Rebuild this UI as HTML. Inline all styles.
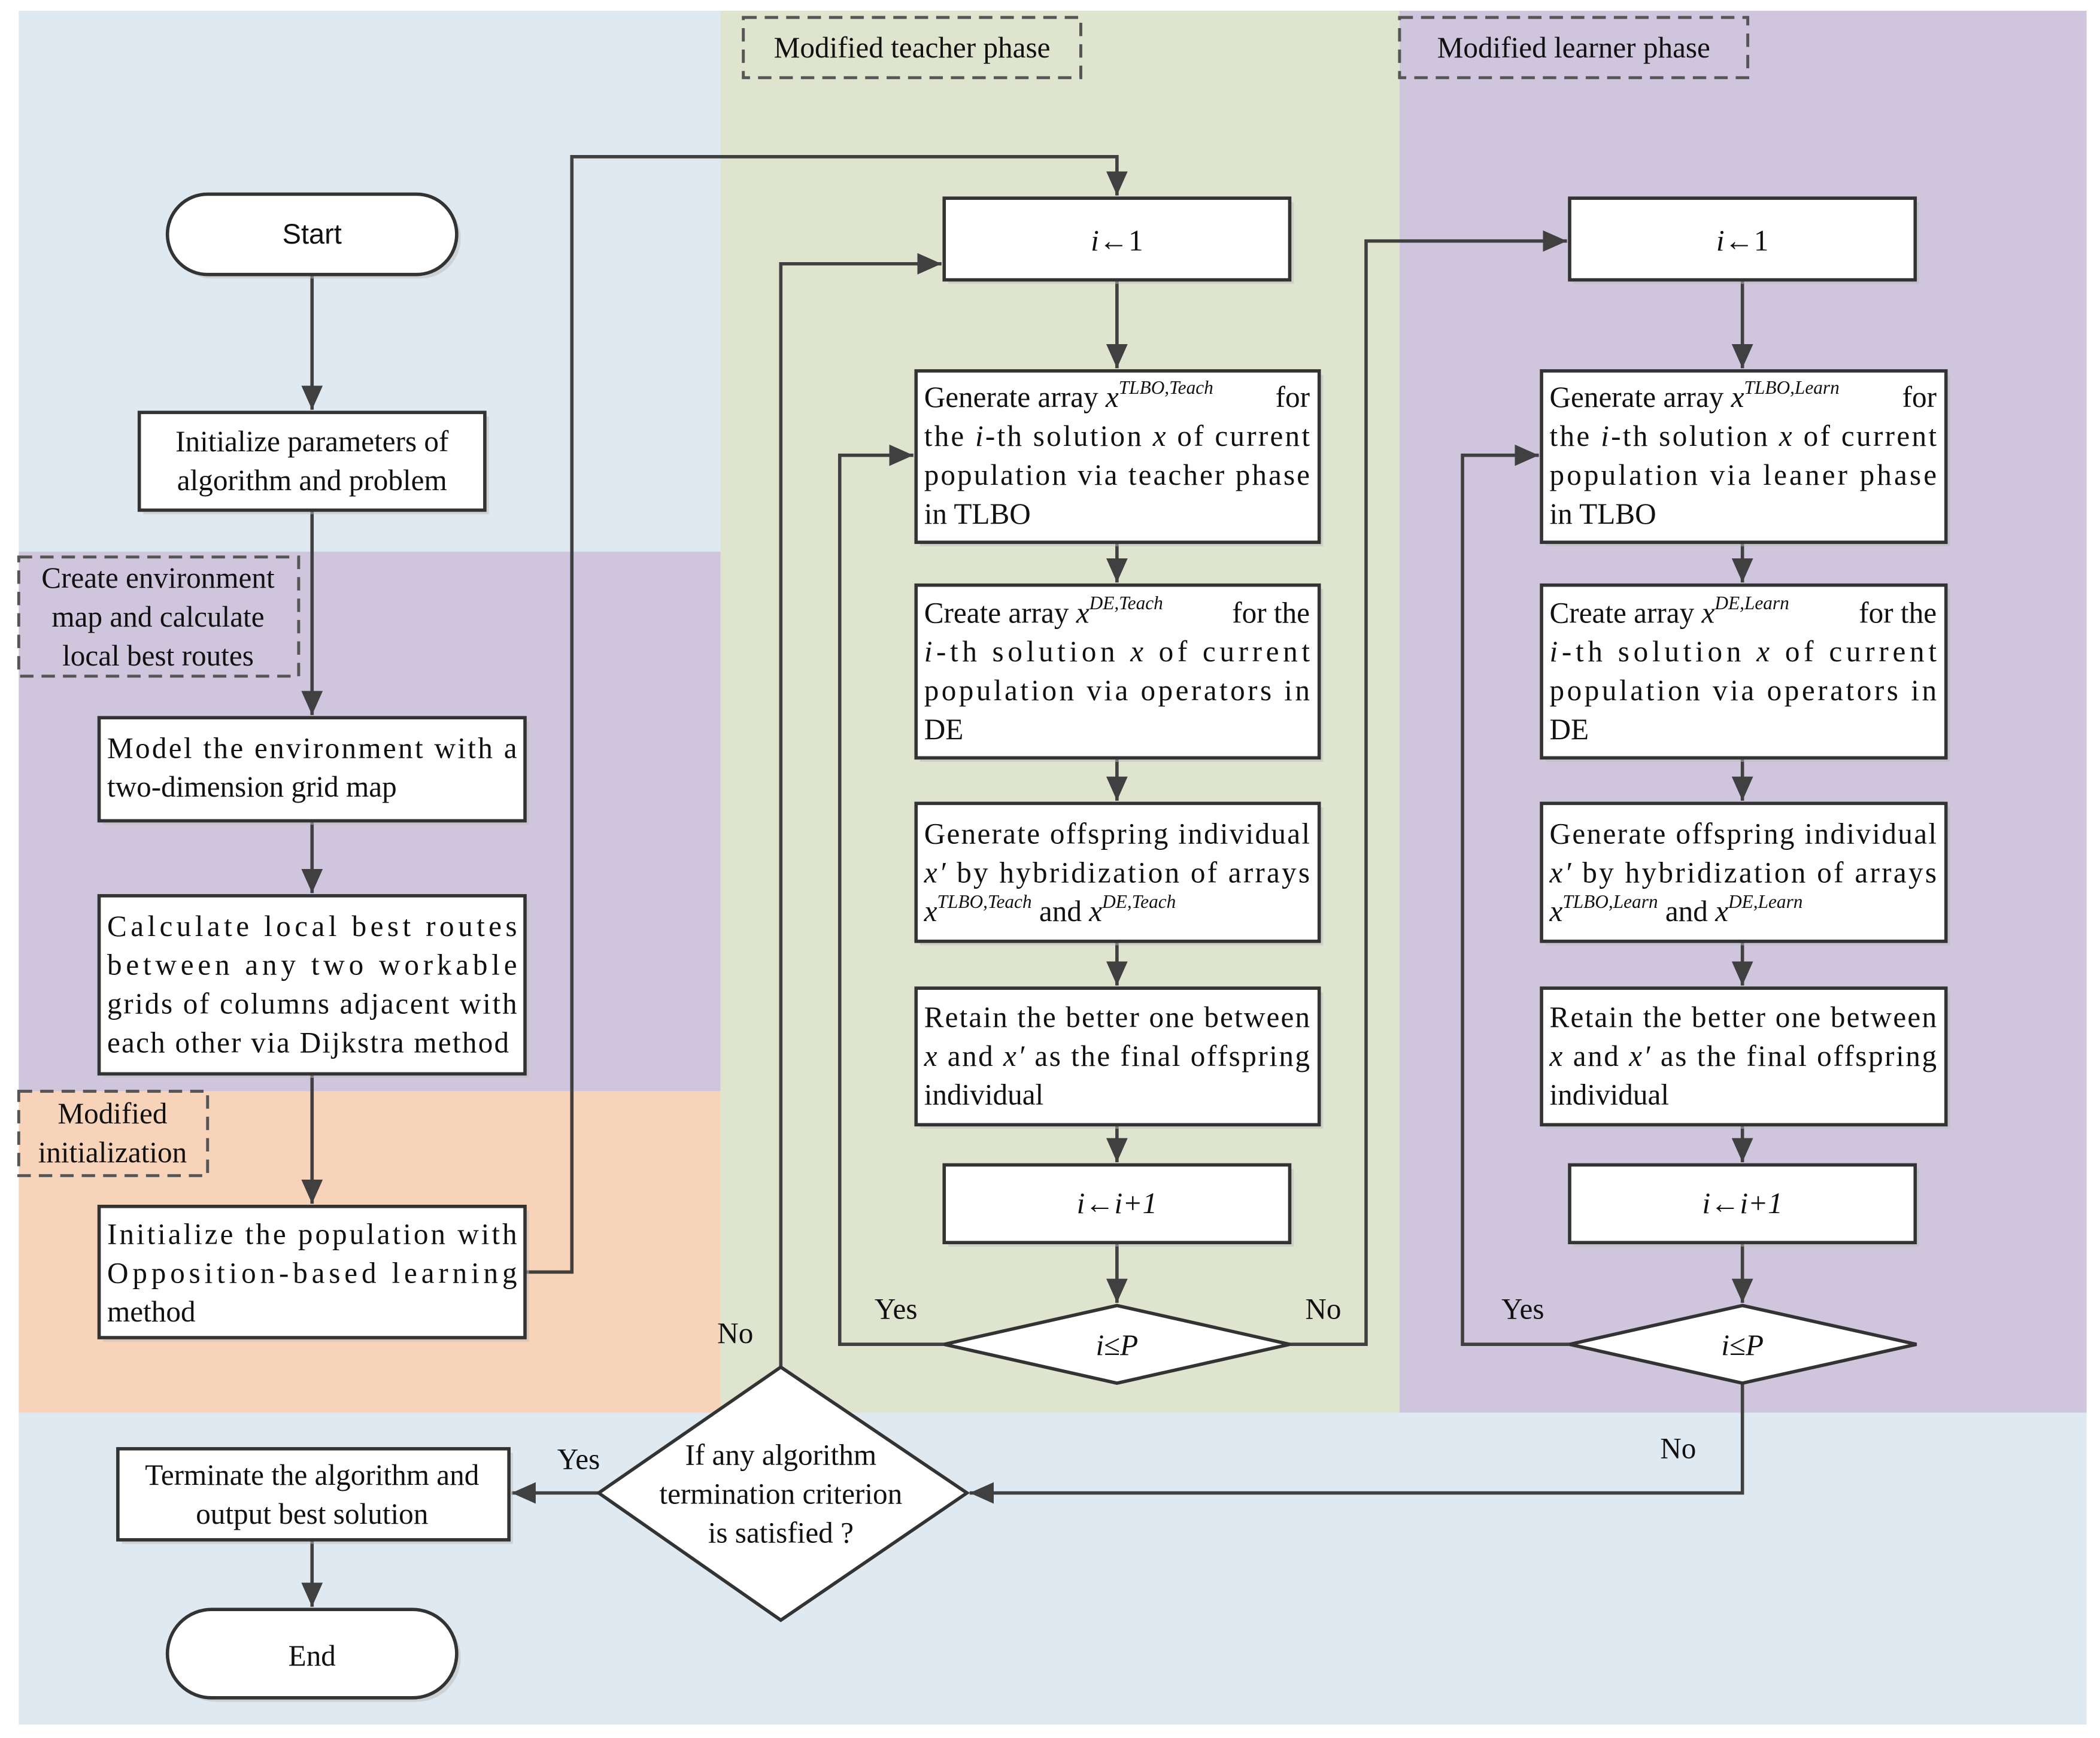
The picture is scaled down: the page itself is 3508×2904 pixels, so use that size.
<!DOCTYPE html>
<html><head><meta charset="utf-8"><style>html,body{margin:0;padding:0;background:#fff}svg{display:block}</style></head>
<body>
<svg width="3508" height="2904" viewBox="0 0 1568 1298" xmlns="http://www.w3.org/2000/svg" font-family="'Liberation Serif', serif" font-size="22" fill="#111">
<defs>
<marker id="a" markerWidth="10" markerHeight="10" refX="9" refY="5" orient="auto" markerUnits="userSpaceOnUse"><path d="M0,0 L10,5 L0,10 z" fill="#404040"/></marker>
<marker id="b" markerWidth="20" markerHeight="16" refX="18" refY="8" orient="auto" markerUnits="userSpaceOnUse"><path d="M0,0 L18,8 L0,16 z" fill="#404040"/></marker>
</defs>
<!-- backgrounds -->
<rect x="14" y="8" width="1544" height="1280" fill="#dfe9f2"/>
<rect x="14" y="412" width="524" height="403" fill="#cfc6dd"/>
<rect x="14" y="815" width="524" height="240" fill="#f7d4b9"/>
<rect x="538" y="8" width="507" height="1047" fill="#dfe4cf"/>
<rect x="1045" y="8" width="513" height="1047" fill="#cfc6dd"/>

<!-- dashed labels -->
<g fill="none" stroke="#555" stroke-width="2.2" stroke-dasharray="10,6">
<rect x="555" y="13" width="252" height="45"/>
<rect x="1045" y="13" width="260" height="45"/>
<rect x="14" y="416" width="209" height="89"/>
<rect x="14" y="815" width="141" height="63"/>
</g>
<text x="681" y="43" text-anchor="middle">Modified teacher phase</text>
<text x="1175" y="43" text-anchor="middle">Modified learner phase</text>
<text x="118" y="439" text-anchor="middle">Create environment</text>
<text x="118" y="468" text-anchor="middle">map and calculate</text>
<text x="118" y="497" text-anchor="middle">local best routes</text>
<text x="84" y="839" text-anchor="middle">Modified</text>
<text x="84" y="868" text-anchor="middle">initialization</text>

<!-- connectors -->
<g fill="none" stroke="#404040" stroke-width="2.5">
<path d="M233,205 V306" marker-end="url(#b)"/>
<path d="M233,381 V534" marker-end="url(#b)"/>
<path d="M233,613 V667" marker-end="url(#b)"/>
<path d="M233,802 V899" marker-end="url(#b)"/>
<path d="M392,950 H427 V117 H834 V146" marker-end="url(#b)"/>
<path d="M834,209 V275" marker-end="url(#b)"/>
<path d="M834,405 V435" marker-end="url(#b)"/>
<path d="M834,566 V598" marker-end="url(#b)"/>
<path d="M834,703 V736" marker-end="url(#b)"/>
<path d="M834,840 V868" marker-end="url(#b)"/>
<path d="M834,928 V973" marker-end="url(#b)"/>
<path d="M705,1004 H627 V340 H682" marker-end="url(#b)"/>
<path d="M963,1004 H1020 V180 H1170" marker-end="url(#b)"/>
<path d="M1301,209 V275" marker-end="url(#b)"/>
<path d="M1301,405 V435" marker-end="url(#b)"/>
<path d="M1301,566 V598" marker-end="url(#b)"/>
<path d="M1301,703 V736" marker-end="url(#b)"/>
<path d="M1301,840 V868" marker-end="url(#b)"/>
<path d="M1301,928 V973" marker-end="url(#b)"/>
<path d="M1172,1004 H1092 V340 H1149" marker-end="url(#b)"/>
<path d="M1301,1033 V1115 H724" marker-end="url(#b)"/>
<path d="M583,1021 V197 H703" marker-end="url(#b)"/>
<path d="M447,1115 H382" marker-end="url(#b)"/>
<path d="M233,1150 V1200" marker-end="url(#b)"/>
</g>

<!-- shapes (shadow + shape) -->
<g fill="#bbb" opacity="0.5">
<rect x="128" y="148" width="216" height="60" rx="30"/>
<rect x="107" y="311" width="258" height="73"/>
<rect x="77" y="539" width="318" height="77"/>
<rect x="77" y="672" width="318" height="133"/>
<rect x="77" y="904" width="318" height="98"/>
<rect x="708" y="151" width="258" height="61"/>
<rect x="687" y="280" width="301" height="128"/>
<rect x="687" y="440" width="301" height="129"/>
<rect x="687" y="603" width="301" height="103"/>
<rect x="687" y="741" width="301" height="102"/>
<rect x="708" y="873" width="258" height="58"/>
<rect x="1175" y="151" width="258" height="61"/>
<rect x="1154" y="280" width="302" height="128"/>
<rect x="1154" y="440" width="302" height="129"/>
<rect x="1154" y="603" width="302" height="103"/>
<rect x="1154" y="741" width="302" height="102"/>
<rect x="1175" y="873" width="258" height="58"/>
<rect x="91" y="1085" width="292" height="68"/>
<rect x="128" y="1205" width="216" height="66" rx="33"/>
</g>
<g fill="#fff" stroke="#333" stroke-width="2.5">
<rect x="125" y="145" width="216" height="60" rx="30"/>
<rect x="104" y="308" width="258" height="73"/>
<rect x="74" y="536" width="318" height="77"/>
<rect x="74" y="669" width="318" height="133"/>
<rect x="74" y="901" width="318" height="98"/>
<rect x="705" y="148" width="258" height="61"/>
<rect x="684" y="277" width="301" height="128"/>
<rect x="684" y="437" width="301" height="129"/>
<rect x="684" y="600" width="301" height="103"/>
<rect x="684" y="738" width="301" height="102"/>
<rect x="705" y="870" width="258" height="58"/>
<rect x="1172" y="148" width="258" height="61"/>
<rect x="1151" y="277" width="302" height="128"/>
<rect x="1151" y="437" width="302" height="129"/>
<rect x="1151" y="600" width="302" height="103"/>
<rect x="1151" y="738" width="302" height="102"/>
<rect x="1172" y="870" width="258" height="58"/>
<polygon points="834,975 963,1004 834,1033 705,1004"/>
<polygon points="1301,975 1431,1004 1301,1033 1172,1004"/>
<polygon points="583,1021 722,1115 583,1210 447,1115"/>
<rect x="88" y="1082" width="292" height="68"/>
<rect x="125" y="1202" width="216" height="66" rx="33"/>
</g>

<!-- text -->
<text x="233" y="182" text-anchor="middle" font-family="'Liberation Sans', sans-serif" font-size="21">Start</text>
<text x="233" y="1244" text-anchor="middle">End</text>
<text x="233" y="337" text-anchor="middle">Initialize parameters of</text>
<text x="233" y="366" text-anchor="middle">algorithm and problem</text>
<text x="80" y="566" textLength="306">Model the environment with a</text>
<text x="80" y="595">two-dimension grid map</text>
<text x="80" y="699" textLength="306">Calculate local best routes</text>
<text x="80" y="728" textLength="306">between any two workable</text>
<text x="80" y="757" textLength="306">grids of columns adjacent with</text>
<text x="80" y="786" textLength="300">each other via Dijkstra method</text>
<text x="80" y="929" textLength="306">Initialize the population with</text>
<text x="80" y="958" textLength="306">Opposition-based learning</text>
<text x="80" y="987">method</text>
<text x="233" y="1109" text-anchor="middle">Terminate the algorithm and</text>
<text x="233" y="1138" text-anchor="middle">output best solution</text>
<text x="583" y="1094" text-anchor="middle">If any algorithm</text>
<text x="583" y="1123" text-anchor="middle">termination criterion</text>
<text x="583" y="1152" text-anchor="middle">is satisfied ?</text>

<text x="834" y="187" text-anchor="middle"><tspan font-style="italic">i</tspan>←1</text>
<text x="834" y="906" text-anchor="middle" font-style="italic">i←i+1</text>
<text x="834" y="1012" text-anchor="middle"><tspan font-style="italic">i</tspan>≤<tspan font-style="italic">P</tspan></text>
<text x="1301" y="187" text-anchor="middle"><tspan font-style="italic">i</tspan>←1</text>
<text x="1301" y="906" text-anchor="middle" font-style="italic">i←i+1</text>
<text x="1301" y="1012" text-anchor="middle"><tspan font-style="italic">i</tspan>≤<tspan font-style="italic">P</tspan></text>

<g font-size="22">
<text x="690" y="304">Generate array <tspan font-style="italic">x</tspan><tspan font-style="italic" font-size="14" dy="-10">TLBO,Teach</tspan></text><text x="978" y="304" text-anchor="end">for</text>
<text x="690" y="333" textLength="288"><tspan>the </tspan><tspan font-style="italic">i</tspan>-th solution <tspan font-style="italic">x</tspan> of current</text>
<text x="690" y="362" textLength="288">population via teacher phase</text>
<text x="690" y="391">in TLBO</text>
<text x="690" y="465">Create array <tspan font-style="italic">x</tspan><tspan font-style="italic" font-size="14" dy="-10">DE,Teach</tspan></text><text x="978" y="465" text-anchor="end">for the</text>
<text x="690" y="494" textLength="288"><tspan font-style="italic">i</tspan>-th solution <tspan font-style="italic">x</tspan> of current</text>
<text x="690" y="523" textLength="288">population via operators in</text>
<text x="690" y="552">DE</text>
<text x="690" y="630" textLength="288">Generate offspring individual</text>
<text x="690" y="659" textLength="288"><tspan font-style="italic">x′</tspan> by hybridization of arrays</text>
<text x="690" y="688"><tspan font-style="italic">x</tspan><tspan font-style="italic" font-size="14" dy="-10">TLBO,Teach</tspan><tspan dy="10"> and </tspan><tspan font-style="italic">x</tspan><tspan font-style="italic" font-size="14" dy="-10">DE,Teach</tspan></text>
<text x="690" y="767" textLength="288">Retain the better one between</text>
<text x="690" y="796" textLength="288"><tspan font-style="italic">x</tspan> and <tspan font-style="italic">x′</tspan> as the final offspring</text>
<text x="690" y="825">individual</text>

<text x="1157" y="304">Generate array <tspan font-style="italic">x</tspan><tspan font-style="italic" font-size="14" dy="-10">TLBO,Learn</tspan></text><text x="1446" y="304" text-anchor="end">for</text>
<text x="1157" y="333" textLength="289"><tspan>the </tspan><tspan font-style="italic">i</tspan>-th solution <tspan font-style="italic">x</tspan> of current</text>
<text x="1157" y="362" textLength="289">population via leaner phase</text>
<text x="1157" y="391">in TLBO</text>
<text x="1157" y="465">Create array <tspan font-style="italic">x</tspan><tspan font-style="italic" font-size="14" dy="-10">DE,Learn</tspan></text><text x="1446" y="465" text-anchor="end">for the</text>
<text x="1157" y="494" textLength="289"><tspan font-style="italic">i</tspan>-th solution <tspan font-style="italic">x</tspan> of current</text>
<text x="1157" y="523" textLength="289">population via operators in</text>
<text x="1157" y="552">DE</text>
<text x="1157" y="630" textLength="289">Generate offspring individual</text>
<text x="1157" y="659" textLength="289"><tspan font-style="italic">x′</tspan> by hybridization of arrays</text>
<text x="1157" y="688"><tspan font-style="italic">x</tspan><tspan font-style="italic" font-size="14" dy="-10">TLBO,Learn</tspan><tspan dy="10"> and </tspan><tspan font-style="italic">x</tspan><tspan font-style="italic" font-size="14" dy="-10">DE,Learn</tspan></text>
<text x="1157" y="767" textLength="289">Retain the better one between</text>
<text x="1157" y="796" textLength="289"><tspan font-style="italic">x</tspan> and <tspan font-style="italic">x′</tspan> as the final offspring</text>
<text x="1157" y="825">individual</text>
</g>

<text x="669" y="985" text-anchor="middle">Yes</text>
<text x="988" y="985" text-anchor="middle">No</text>
<text x="1137" y="985" text-anchor="middle">Yes</text>
<text x="1253" y="1089" text-anchor="middle">No</text>
<text x="549" y="1003" text-anchor="middle">No</text>
<text x="432" y="1097" text-anchor="middle">Yes</text>
</svg>
</body></html>
